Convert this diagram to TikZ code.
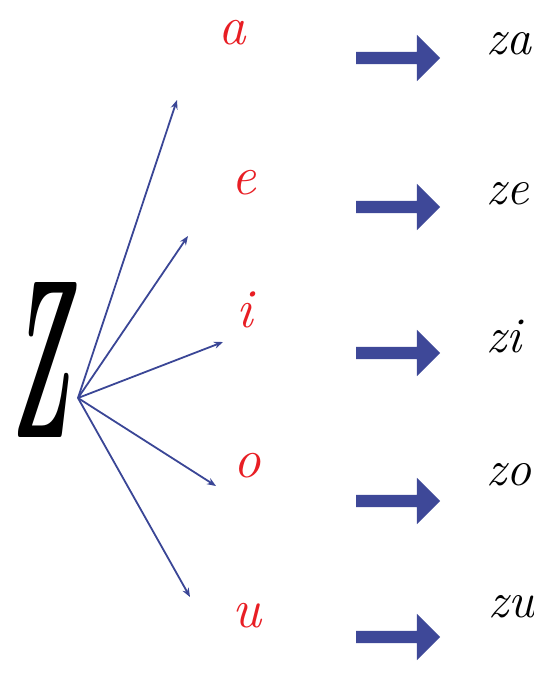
\documentclass[tikz,border=0pt]{standalone}
\usepackage{graphicx}
\usetikzlibrary{arrows.meta,shapes.arrows}
\definecolor{fanblue}{RGB}{58,70,150}
\definecolor{blockblue}{RGB}{62,72,152}
\definecolor{vowelred}{RGB}{232,30,36}
\tikzset{
  fan/.style={draw=fanblue,line width=1.8pt,-{Stealth[length=9pt,width=7pt]}},
  vowel/.style={text=vowelred,anchor=base,inner sep=0pt,font=\fontsize{55}{60}\selectfont\itshape},
  syll/.style={text=black,anchor=base west,inner sep=0pt,font=\fontsize{50}{56}\selectfont\itshape},
  blockarrow/.style={single arrow,fill=blockblue,draw=none,inner sep=0pt,
    minimum height=84pt,single arrow head extend=17pt,text height=12pt,text depth=0pt,
    anchor=center,text width=0pt}
}
\begin{document}
\begin{tikzpicture}[x=1pt,y=-1pt]
\useasboundingbox (0,0) rectangle (534,684);
% big Z
\node[inner sep=0pt] (Z) at (41,360) {\resizebox{60pt}{155pt}{\bfseries\itshape Z}};
\coordinate (src) at (78,398);
% vowels
\node[vowel] (va) at (232,45) {a};
\node[vowel] (ve) at (244,195) {e};
\node[vowel] (vi) at (245,327) {i};
\node[vowel] (vo) at (247,477) {o};
\node[vowel] (vu) at (247,627) {u};
% fan arrow tips
\coordinate (t1) at (177,100);
\coordinate (t2) at (188,236);
\coordinate (t3) at (223,342);
\coordinate (t4) at (216,486);
\coordinate (t5) at (190,597);
\draw[fan] (src) -- (t1);
\draw[fan] (src) -- (t2);
\draw[fan] (src) -- (t3);
\draw[fan] (src) -- (t4);
\draw[fan] (src) -- (t5);
% block arrows
\node[blockarrow] (b1) at (395,58) {};
\node[blockarrow] (b2) at (395,207) {};
\node[blockarrow] (b3) at (395,353) {};
\node[blockarrow] (b4) at (395,501) {};
\node[blockarrow] (b5) at (395,637) {};
% syllables
\node[syll] (za) at (486,55) {za};
\node[syll] (ze) at (486,205) {ze};
\node[syll] (zi) at (486,352) {zi};
\node[syll] (zo) at (486,485) {zo};
\node[syll] (zu) at (488,617) {zu};
\end{tikzpicture}
\end{document}
